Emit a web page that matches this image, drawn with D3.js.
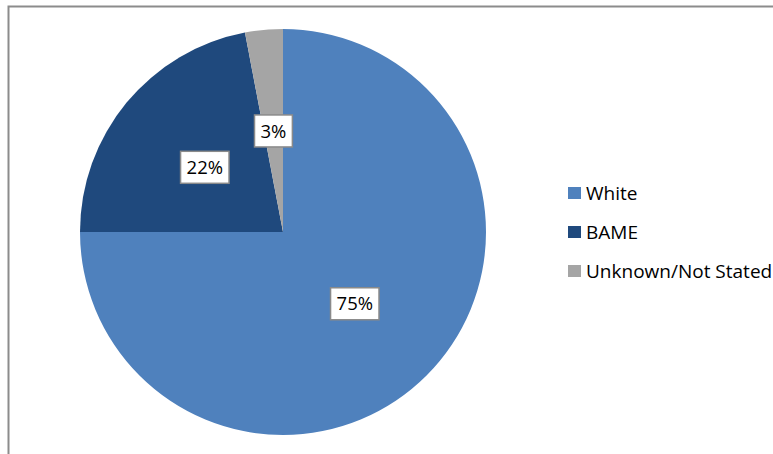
<!DOCTYPE html>
<html><head><meta charset="utf-8">
<script src="https://cdn.jsdelivr.net/npm/d3@7"></script>
<style>body{margin:0;background:#fff;} svg{display:block;}</style>
</head><body>
<svg id="chart" width="773" height="454"></svg>
<script>
const categories = ["White", "BAME", "Unknown/Not Stated"];
const values = [75, 22, 3];
const labels = ["75%", "22%", "3%"];
const colors = ["#4F81BD", "#1F497D", "#A5A5A5"];

const svg = d3.select("#chart");
svg.append("rect").attr("x", 8.5).attr("y", 6.5).attr("width", 900).attr("height", 600)
  .attr("fill", "#fff").attr("stroke", "#8c8c8c").attr("stroke-width", 2);

const cx = 283, cy = 232, R = 203;
const pie = d3.pie().sort(null).value(d => d)(values);
const arc = d3.arc().innerRadius(0).outerRadius(R);
const g = svg.append("g").attr("transform", `translate(${cx},${cy})`);
g.selectAll("path").data(pie).join("path")
  .attr("d", arc).attr("fill", (d, i) => colors[i]);

const font = "'Open Sans', sans-serif";
const lab = g.selectAll("g.lab").data(pie).join("g").attr("class", "lab")
  .attr("transform", d => `translate(${arc.centroid(d)})`);
lab.each(function(d, i) {
  const s = d3.select(this);
  const t = s.append("text").text(labels[i]).attr("text-anchor", "middle")
    .attr("dy", "0.36em").attr("font-family", font).attr("font-size", 18.5).attr("fill", "#000");
  const bb = t.node().getBBox();
  s.insert("rect", "text").attr("x", bb.x - 6).attr("y", -16).attr("width", bb.width + 12).attr("height", 32)
    .attr("fill", "#fff").attr("stroke", "#8a8a8a").attr("stroke-width", 1.5);
});

const leg = svg.append("g").attr("transform", "translate(568,193)");
categories.forEach((c, i) => {
  const row = leg.append("g").attr("transform", `translate(0,${i * 39})`);
  row.append("rect").attr("x", 0).attr("y", -6).attr("width", 13).attr("height", 12).attr("fill", colors[i]);
  row.append("text").attr("x", 18).attr("dy", "0.36em").text(c)
    .attr("font-family", font).attr("font-size", 19).attr("fill", "#000");
});
</script>
</body></html>
